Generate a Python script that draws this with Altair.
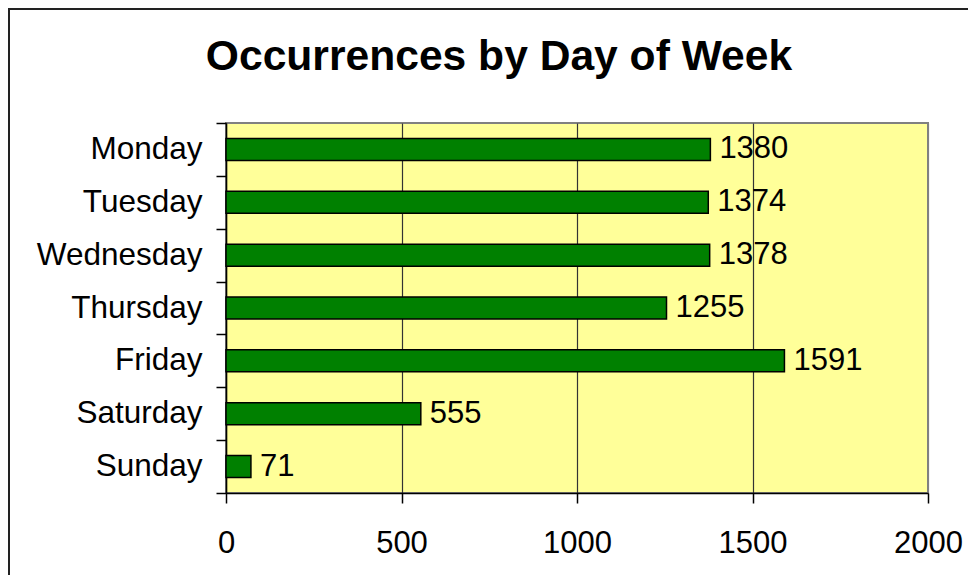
import altair as alt
import pandas as pd

days = ["Monday", "Tuesday", "Wednesday", "Thursday", "Friday", "Saturday", "Sunday"]
counts = [1380, 1374, 1378, 1255, 1591, 555, 71]
x_ticks = [0, 500, 1000, 1500, 2000]
title_text = "Occurrences by Day of Week"

df = pd.DataFrame({"day": days, "count": counts})

FONT = "Liberation Sans"

y_enc = alt.Y(
    "day:N", sort=days, title=None,
    scale=alt.Scale(paddingInner=0, paddingOuter=0),
    axis=alt.Axis(
        tickBand="extent", labelFontSize=31.5, labelColor="black", labelFont=FONT,
        labelPadding=14, tickSize=10, tickColor="black", tickWidth=1.5,
        domainColor="black", domainWidth=1.5, grid=False, labelLimit=400,
    ),
)
x_enc = alt.X(
    "count:Q", title=None,
    scale=alt.Scale(domain=[0, 2000], nice=False),
    axis=alt.Axis(
        values=x_ticks, format="d", labelFontSize=31, labelColor="black", labelFont=FONT,
        labelPadding=25, labelFlush=False, labelOverlap=False,
        tickSize=10, tickColor="black", tickWidth=1.5,
        domainColor="black", domainWidth=1.5,
        grid=True,
        gridColor=alt.condition("datum.value == 2000", alt.value("#808080"), alt.value("#333333")),
        gridWidth=1.2,
    ),
)

bars = alt.Chart(df).mark_bar(
    color="#008000", stroke="black", strokeWidth=1.5, size=22
).encode(x=x_enc, y=y_enc)

labels = alt.Chart(df).mark_text(
    align="left", baseline="middle", dx=9, fontSize=31, font=FONT, color="black"
).encode(
    x=alt.X("count:Q"),
    y=alt.Y("day:N", sort=days),
    text=alt.Text("count:Q"),
)

title = alt.Chart(alt.Data(values=[{"t": title_text}])).mark_text(
    align="center", baseline="alphabetic", fontSize=42.6, fontWeight="bold",
    font=FONT, color="black"
).encode(x=alt.value(273), y=alt.value(-53), text="t:N")

border = alt.Chart(alt.Data(values=[{}])).mark_rect(
    fillOpacity=0, stroke="#222222", strokeWidth=2
).encode(
    x=alt.value(-217), x2=alt.value(900), y=alt.value(-114), y2=alt.value(600)
)

chart = alt.layer(bars, labels, title, border).properties(
    width=702,
    height=370,
    padding={"left": 218, "top": 115, "right": 40, "bottom": 82},
    autosize="none",
    background="white",
).configure_view(
    fill="#FFFF99", stroke="#808080", strokeWidth=2
)

chart.save("out.html", embed_options={"renderer": "svg", "actions": False})
